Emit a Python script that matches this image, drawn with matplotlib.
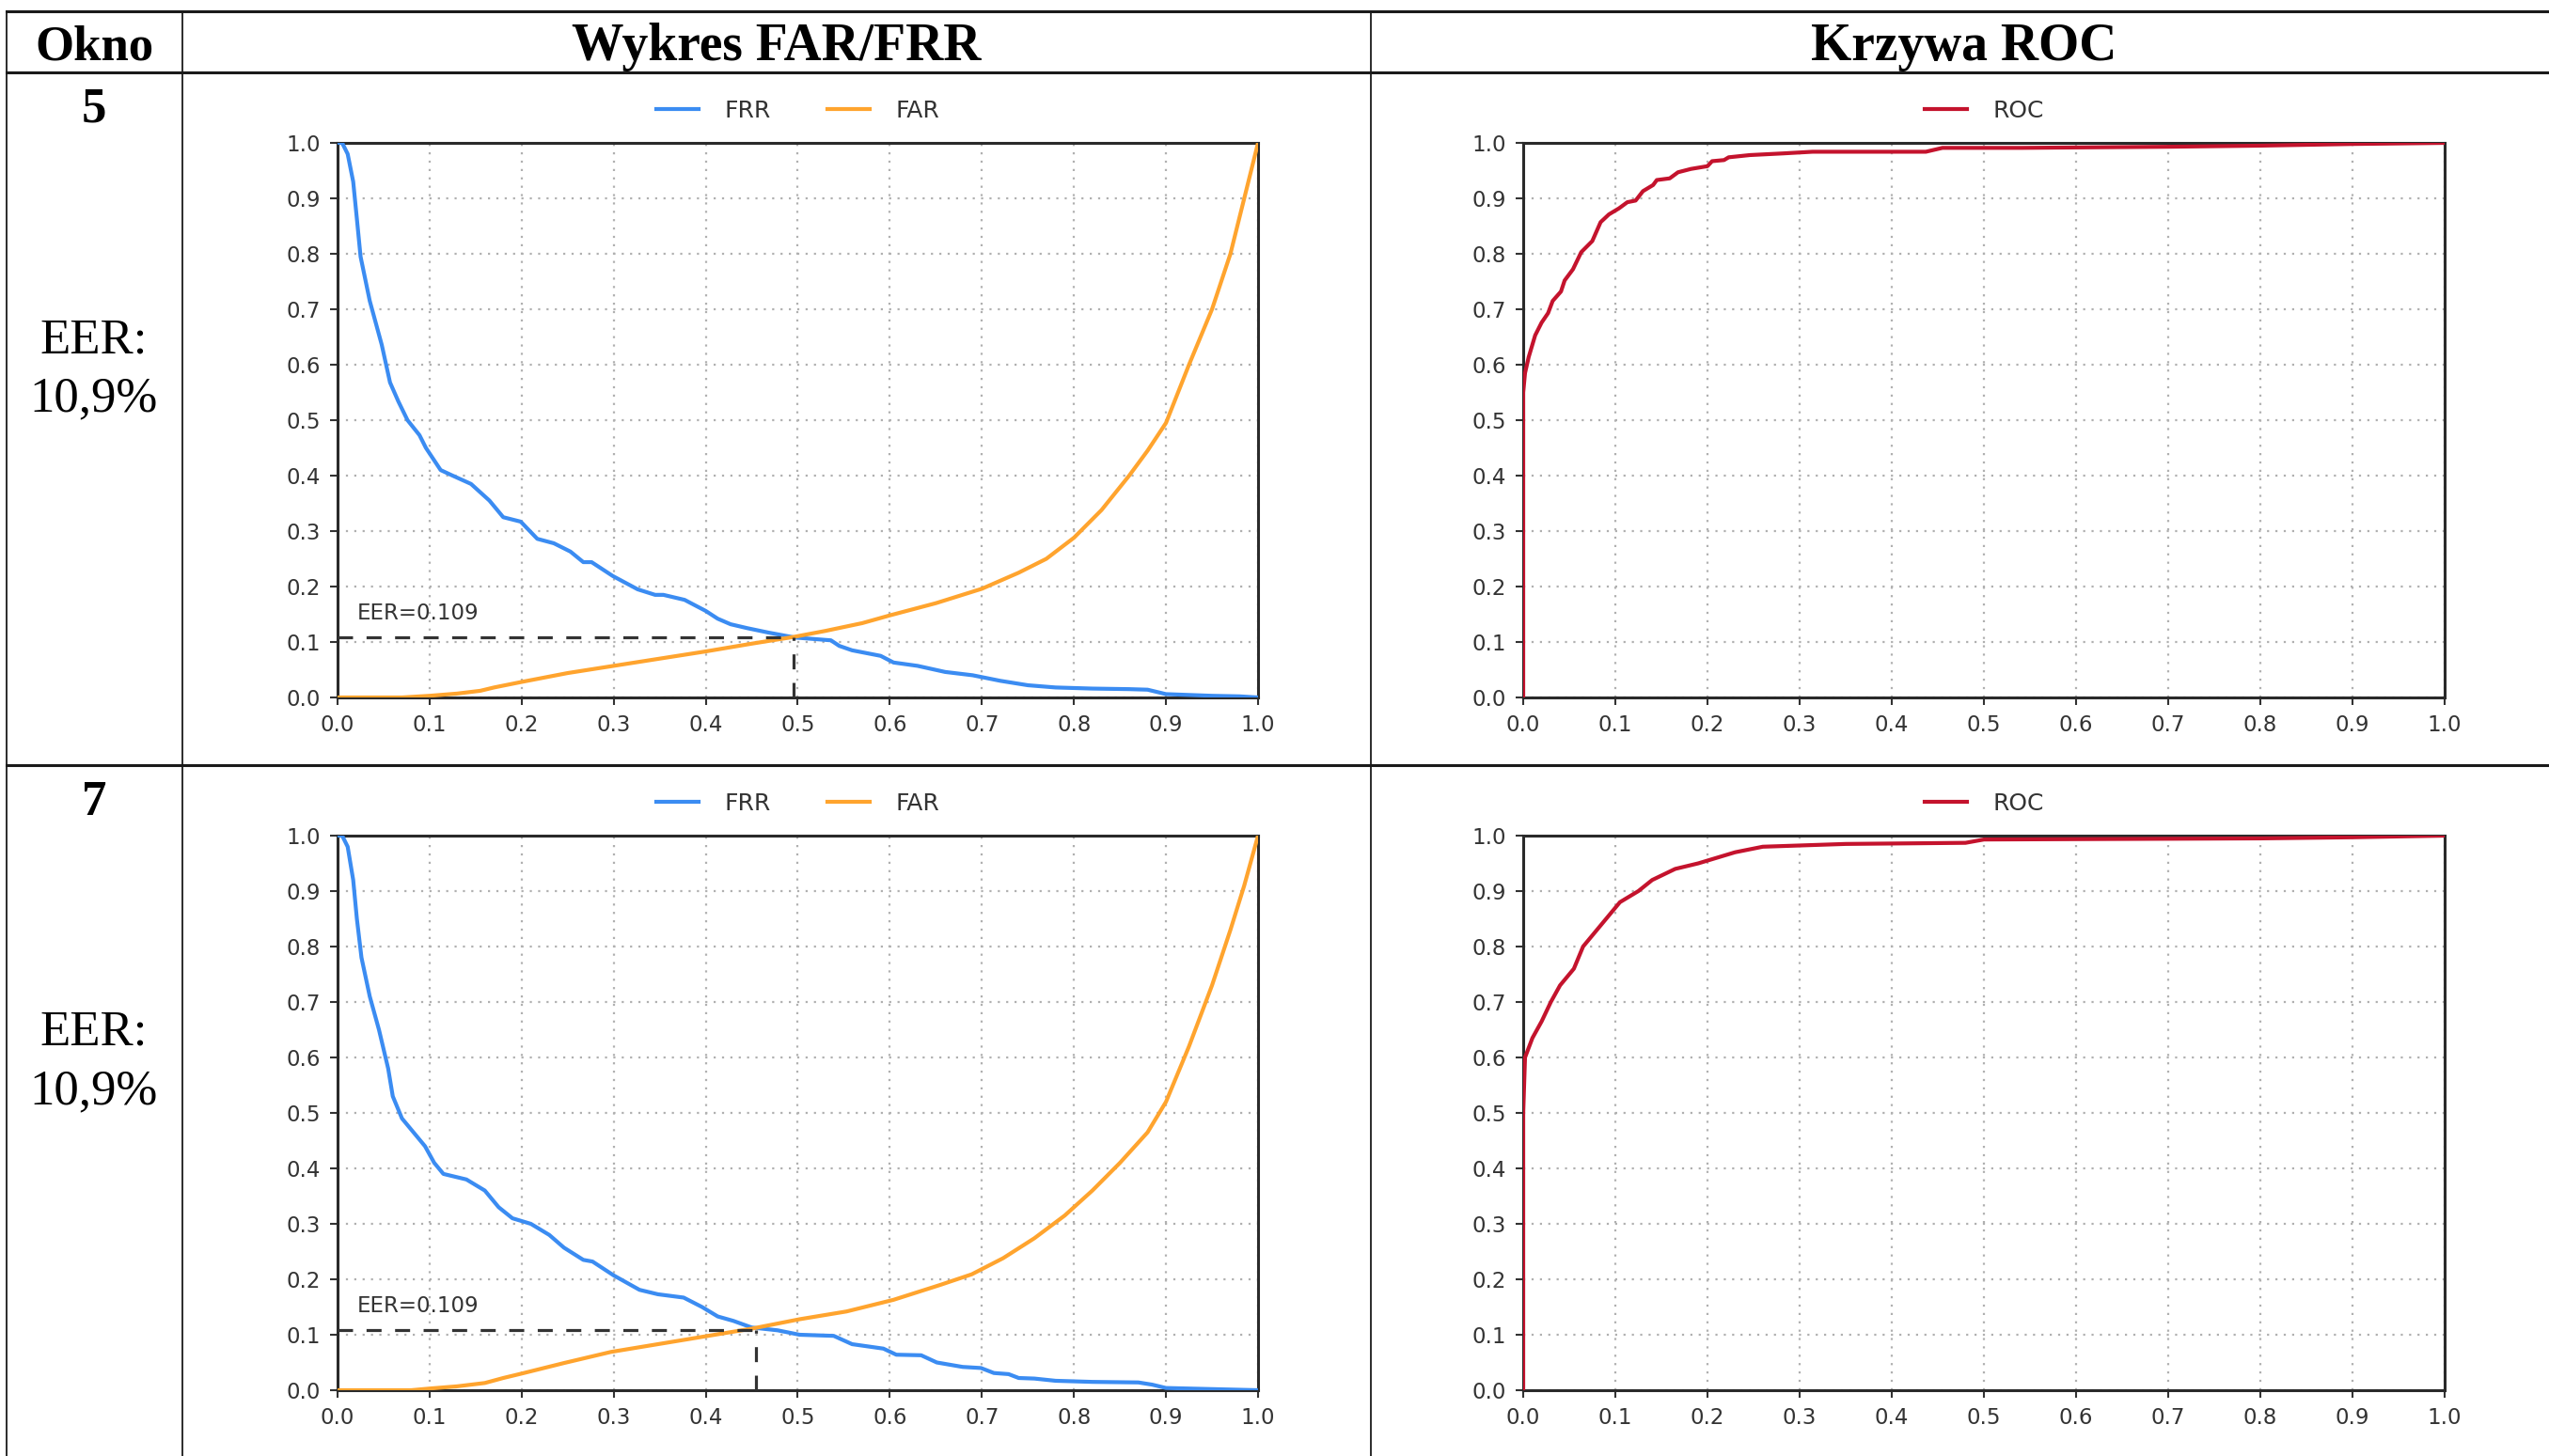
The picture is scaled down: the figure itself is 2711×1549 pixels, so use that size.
import matplotlib.pyplot as plt
from matplotlib.lines import Line2D

W, H = 2711, 1549

headers = ['Okno', 'Wykres FAR/FRR', 'Krzywa ROC']
windows = ['5', '7']
eer_labels = [['EER:', '10,9%'], ['EER:', '10,9%']]
eer_values = [0.109, 0.109]
eer_thresholds = [0.495, 0.455]

# row "5"
frr5_x = [0.0, 0.005, 0.011, 0.017, 0.021, 0.025, 0.035, 0.048, 0.057, 0.066, 0.076, 0.089,
          0.096, 0.112, 0.125, 0.145, 0.165, 0.18, 0.199, 0.217, 0.235, 0.253, 0.267, 0.276,
          0.299, 0.326, 0.345, 0.354, 0.377, 0.40, 0.413, 0.427, 0.445, 0.468, 0.497, 0.536,
          0.545, 0.559, 0.59, 0.604, 0.63, 0.66, 0.69, 0.72, 0.75, 0.78, 0.82, 0.86, 0.88,
          0.90, 0.95, 0.98, 1.0]
frr5_y = [1.0, 1.0, 0.98, 0.93, 0.863, 0.795, 0.715, 0.636, 0.568, 0.534, 0.50, 0.473,
          0.45, 0.41, 0.40, 0.385, 0.355, 0.325, 0.317, 0.286, 0.278, 0.263, 0.244, 0.244,
          0.219, 0.195, 0.185, 0.185, 0.176, 0.156, 0.142, 0.132, 0.125, 0.117, 0.108, 0.103,
          0.093, 0.085, 0.075, 0.063, 0.057, 0.046, 0.040, 0.030, 0.022, 0.018, 0.016, 0.015,
          0.014, 0.006, 0.003, 0.002, 0.0]
far5_x = [0.0, 0.07, 0.10, 0.13, 0.155, 0.17, 0.20, 0.25, 0.30, 0.35, 0.40, 0.45, 0.495,
          0.53, 0.57, 0.60, 0.65, 0.70, 0.74, 0.77, 0.80, 0.83, 0.86, 0.88, 0.90, 0.925,
          0.95, 0.97, 0.985, 1.0]
far5_y = [0.0, 0.0, 0.003, 0.007, 0.012, 0.018, 0.028, 0.044, 0.057, 0.070, 0.083, 0.097,
          0.109, 0.12, 0.134, 0.148, 0.170, 0.196, 0.225, 0.250, 0.288, 0.338, 0.400, 0.445,
          0.495, 0.60, 0.70, 0.80, 0.90, 1.0]
roc5_fpr = [0.0, 0.0, 0.002, 0.006, 0.013, 0.02, 0.027, 0.032, 0.041, 0.045, 0.054, 0.063,
            0.075, 0.084, 0.093, 0.104, 0.113, 0.122, 0.13, 0.141, 0.145, 0.159, 0.168, 0.182,
            0.2, 0.205, 0.218, 0.223, 0.246, 0.282, 0.314, 0.437, 0.455, 0.541, 0.70, 0.80,
            0.90, 1.0]
roc5_tpr = [0.0, 0.55, 0.585, 0.614, 0.653, 0.676, 0.693, 0.715, 0.732, 0.752, 0.772, 0.803,
            0.823, 0.857, 0.871, 0.882, 0.893, 0.896, 0.913, 0.924, 0.933, 0.936, 0.947, 0.953,
            0.958, 0.967, 0.969, 0.974, 0.978, 0.981, 0.984, 0.984, 0.991, 0.991, 0.993, 0.995,
            0.998, 1.0]

# row "7"
frr7_x = [0.0, 0.005, 0.011, 0.017, 0.021, 0.026, 0.035, 0.045, 0.055, 0.06, 0.07, 0.085,
          0.095, 0.105, 0.115, 0.14, 0.16, 0.175, 0.19, 0.21, 0.23, 0.246, 0.267, 0.277,
          0.30, 0.328, 0.348, 0.376, 0.396, 0.413, 0.43, 0.45, 0.478, 0.502, 0.539, 0.559,
          0.593, 0.607, 0.634, 0.651, 0.679, 0.699, 0.713, 0.729, 0.74, 0.757, 0.78, 0.82,
          0.87, 0.885, 0.90, 0.95, 1.0]
frr7_y = [1.0, 1.0, 0.98, 0.92, 0.85, 0.78, 0.71, 0.65, 0.58, 0.53, 0.49, 0.46,
          0.44, 0.41, 0.39, 0.38, 0.36, 0.33, 0.31, 0.30, 0.28, 0.257, 0.235, 0.232,
          0.207, 0.181, 0.173, 0.167, 0.150, 0.133, 0.125, 0.113, 0.108, 0.100, 0.098, 0.083,
          0.075, 0.064, 0.063, 0.050, 0.042, 0.040, 0.031, 0.029, 0.022, 0.021, 0.017, 0.015,
          0.014, 0.010, 0.004, 0.002, 0.0]
far7_x = [0.0, 0.08, 0.10, 0.13, 0.16, 0.18, 0.20, 0.246, 0.297, 0.348, 0.399, 0.45, 0.502,
          0.553, 0.604, 0.655, 0.689, 0.723, 0.757, 0.79, 0.82, 0.85, 0.88, 0.90, 0.925,
          0.95, 0.97, 0.985, 1.0]
far7_y = [0.0, 0.0, 0.003, 0.007, 0.013, 0.022, 0.030, 0.049, 0.069, 0.083, 0.097, 0.111,
          0.128, 0.142, 0.163, 0.190, 0.209, 0.238, 0.274, 0.315, 0.36, 0.41, 0.465, 0.52,
          0.62, 0.73, 0.83, 0.91, 1.0]
roc7_fpr = [0.0, 0.0, 0.002, 0.01, 0.02, 0.03, 0.04, 0.055, 0.065, 0.08, 0.095, 0.105, 0.125,
            0.14, 0.165, 0.19, 0.21, 0.23, 0.26, 0.35, 0.48, 0.50, 0.80, 0.90, 1.0]
roc7_tpr = [0.0, 0.50, 0.60, 0.635, 0.665, 0.70, 0.73, 0.76, 0.80, 0.83, 0.86, 0.88, 0.90,
            0.92, 0.94, 0.95, 0.96, 0.97, 0.98, 0.985, 0.987, 0.993, 0.995, 0.997, 1.0]

frr = [(frr5_x, frr5_y), (frr7_x, frr7_y)]
far = [(far5_x, far5_y), (far7_x, far7_y)]
roc = [(roc5_fpr, roc5_tpr), (roc7_fpr, roc7_tpr)]

ticks = [i / 10 for i in range(11)]
tick_labels = ['%.1f' % t for t in ticks]

c_frr = '#3b8cf2'
c_far = '#ffa42e'
c_roc = '#c4132d'
serif = 'Liberation Serif'

fig = plt.figure(figsize=(W / 100, H / 100), dpi=100)


def fx(px):
    return px / W


def fy(py):
    return 1 - py / H


def axes_px(x0, x1, y0, y1):
    return fig.add_axes([fx(x0), fy(y1), (x1 - x0) / W, (y1 - y0) / H])


def style(ax):
    ax.set_xlim(0, 1)
    ax.set_ylim(0, 1)
    ax.set_xticks(ticks)
    ax.set_xticklabels(tick_labels)
    ax.set_yticks(ticks)
    ax.set_yticklabels(tick_labels)
    ax.grid(True, linestyle=(0, (1, 3)), color='#b0b0b0', linewidth=1.6)
    ax.tick_params(direction='out', length=6, width=1.5, pad=7, labelsize=16.5,
                   colors='#333333', top=False, right=False)
    for s in ax.spines.values():
        s.set_linewidth(2.2)
        s.set_color('#2a2a2a')


# table lines
line_kw = dict(color='#1a1a1a', transform=fig.transFigure)
for y in [12, 77, 814]:
    fig.add_artist(Line2D([fx(7), 1], [fy(y), fy(y)], linewidth=2.2, **line_kw))
for x in [7, 194, 1458]:
    fig.add_artist(Line2D([fx(x), fx(x)], [fy(12), 0], linewidth=1.3, **line_kw))

# header texts
header_x = [100, 826, 2089]
header_size = [38, 40, 40]
for hx, txt, fs in zip(header_x, headers, header_size):
    fig.text(fx(hx), fy(64), txt, ha='center', va='baseline', fontsize=fs,
             fontweight='bold', family=serif)

row_top = [77, 814]
for r in range(2):
    off = row_top[r] - 77
    fig.text(fx(100), fy(130 + off), windows[r], ha='center', va='baseline',
             fontsize=38, fontweight='bold', family=serif)
    fig.text(fx(100), fy(375 + off), eer_labels[r][0], ha='center', va='baseline',
             fontsize=38, family=serif)
    fig.text(fx(100), fy(437 + off), eer_labels[r][1], ha='center', va='baseline',
             fontsize=38, family=serif)

    y0 = 152 + off
    y1 = 742 + off

    # FAR / FRR
    ax = axes_px(359, 1338, y0, y1)
    style(ax)
    ax.plot(frr[r][0], frr[r][1], color=c_frr, linewidth=3.0, label='FRR', zorder=3)
    ax.plot(far[r][0], far[r][1], color=c_far, linewidth=3.0, label='FAR', zorder=3)
    e, t = eer_values[r], eer_thresholds[r]
    ax.plot([0, t], [e, e], color='#333333', linewidth=2.3, linestyle=(0, (5, 4.5)), zorder=4)
    ax.plot([t, t], [0, e], color='#333333', linewidth=2.3, linestyle=(0, (5, 4.5)), zorder=4)
    ax.text(0.021, 0.14, 'EER=%.3f' % e, fontsize=16.5, color='#333333')
    ax.legend(loc='center', bbox_to_anchor=(0.5, 1.058), ncol=2, frameon=False,
              fontsize=18, handlelength=1.8, handletextpad=1.1, columnspacing=2.4,
              labelcolor='#333333')

    # ROC
    ax2 = axes_px(1620, 2600, y0, y1)
    style(ax2)
    ax2.plot(roc[r][0], roc[r][1], color=c_roc, linewidth=3.0, label='ROC', zorder=3)
    ax2.legend(loc='center', bbox_to_anchor=(0.5, 1.058), ncol=1, frameon=False,
               fontsize=18, handlelength=1.8, handletextpad=1.1, labelcolor='#333333')

plt.savefig('out.png', dpi=100)
